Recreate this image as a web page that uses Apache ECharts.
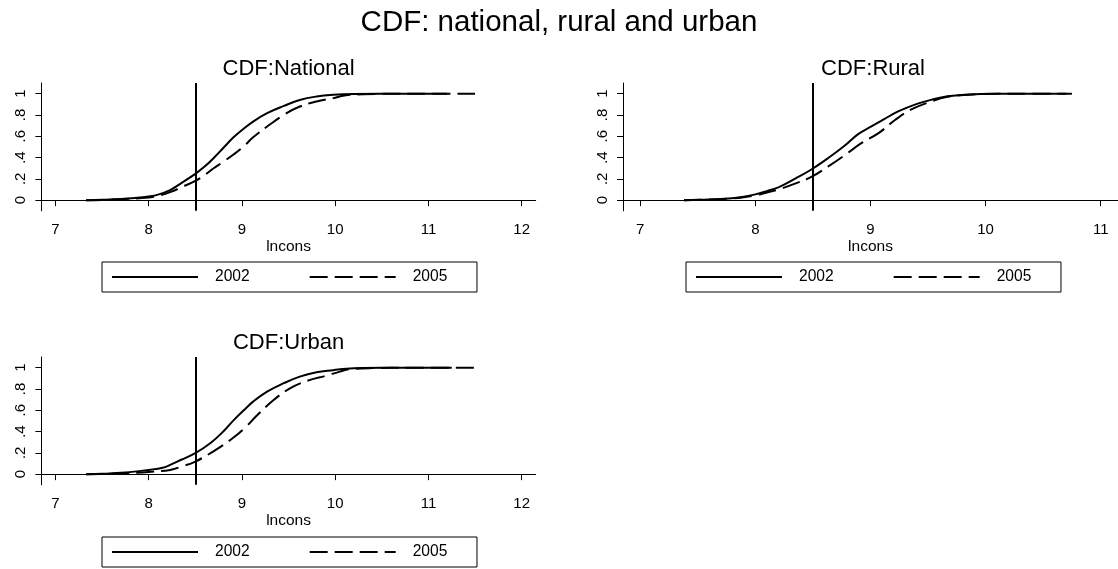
<!DOCTYPE html>
<html><head><meta charset="utf-8">
<script src="https://cdn.jsdelivr.net/npm/echarts@6/dist/echarts.min.js"></script>
<style>html,body{margin:0;padding:0;background:#fff}#c{width:1118px;height:569px}</style>
</head><body><div id="c"></div>
<script>
// ---- data ----
const mainTitle = 'CDF: national, rural and urban';
const panelTitles = ['CDF:National', 'CDF:Rural', 'CDF:Urban'];
const xAxisName = 'lncons';
const legendNames = ['2002', '2005'];
const xTicks = [7, 8, 9, 10, 11, 12];
const xTicksRural = [7, 8, 9, 10, 11];
const yTicks = [0, 0.2, 0.4, 0.6, 0.8, 1];
const yTickLabels = ['0', '.2', '.4', '.6', '.8', '1'];
const povertyLine = [8.5];

const natX2002 = [7.33, 7.50, 7.70, 7.90, 8.00, 8.10, 8.23, 8.35, 8.50, 8.60, 8.70, 8.80, 8.91, 9.00, 9.12, 9.27, 9.45, 9.62, 9.80, 9.98, 10.20, 10.60, 11.20];
const natY2002 = [0.000, 0.003, 0.010, 0.024, 0.034, 0.052, 0.095, 0.160, 0.247, 0.315, 0.398, 0.490, 0.590, 0.658, 0.738, 0.817, 0.885, 0.941, 0.973, 0.989, 0.997, 0.999, 1.000];
const natX2005 = [7.33, 7.50, 7.70, 7.90, 8.00, 8.10, 8.23, 8.37, 8.50, 8.60, 8.69, 8.80, 8.91, 9.02, 9.12, 9.27, 9.45, 9.62, 9.80, 9.98, 10.10, 10.30, 10.70, 11.50];
const natY2005 = [0.000, 0.002, 0.008, 0.018, 0.025, 0.040, 0.075, 0.128, 0.181, 0.235, 0.295, 0.360, 0.428, 0.505, 0.590, 0.691, 0.801, 0.879, 0.926, 0.958, 0.982, 0.995, 0.999, 1.000];

const rurX2002 = [7.38, 7.60, 7.77, 7.90, 8.00, 8.10, 8.20, 8.35, 8.49, 8.63, 8.78, 8.89, 9.00, 9.12, 9.24, 9.41, 9.53, 9.67, 9.82, 10.10, 10.75];
const rurY2002 = [0.000, 0.006, 0.016, 0.032, 0.054, 0.085, 0.120, 0.204, 0.290, 0.393, 0.515, 0.618, 0.688, 0.761, 0.833, 0.906, 0.943, 0.975, 0.990, 0.998, 1.000];
const rurX2005 = [7.38, 7.60, 7.77, 7.90, 8.00, 8.10, 8.20, 8.35, 8.49, 8.63, 8.78, 8.92, 9.07, 9.21, 9.35, 9.53, 9.67, 9.82, 10.10, 10.70];
const rurY2005 = [0.000, 0.005, 0.014, 0.028, 0.045, 0.072, 0.100, 0.157, 0.220, 0.314, 0.425, 0.535, 0.629, 0.750, 0.849, 0.927, 0.970, 0.988, 0.998, 1.000];

const urbX2002 = [7.33, 7.50, 7.75, 8.00, 8.15, 8.23, 8.35, 8.50, 8.66, 8.80, 8.91, 9.02, 9.12, 9.27, 9.45, 9.62, 9.80, 9.98, 10.12, 10.50, 11.25];
const urbY2002 = [0.000, 0.003, 0.015, 0.040, 0.060, 0.087, 0.135, 0.197, 0.290, 0.400, 0.505, 0.600, 0.681, 0.775, 0.854, 0.916, 0.957, 0.976, 0.990, 0.998, 1.000];
const urbX2005 = [7.33, 7.50, 7.75, 8.00, 8.23, 8.35, 8.50, 8.69, 8.91, 9.05, 9.16, 9.34, 9.52, 9.70, 9.91, 10.05, 10.15, 10.40, 10.80, 11.55];
const urbY2005 = [0.000, 0.002, 0.008, 0.020, 0.040, 0.070, 0.118, 0.212, 0.344, 0.450, 0.550, 0.697, 0.807, 0.876, 0.926, 0.963, 0.985, 0.996, 0.999, 1.000];

// ---- build ----
const FONT = '"Liberation Sans", Arial, sans-serif';
const pairs = (xs, ys) => xs.map((x, i) => [x, ys[i]]);

const panels = [
  { grid: { left: 41.4, top: 83, width: 494.3, height: 127.8 }, xmin: 6.85, xmax: 12.15, ticks: xTicks,
    s2002: pairs(natX2002, natY2002), s2005: pairs(natX2005, natY2005),
    title: { x: 288.6, y: 69.2 }, legend: { left: 102, top: 262 } },
  { grid: { left: 623, top: 83, width: 500, height: 127.8 }, xmin: 6.85, xmax: 11.15, ticks: xTicksRural,
    s2002: pairs(rurX2002, rurY2002), s2005: pairs(rurX2005, rurY2005),
    title: { x: 873, y: 69.2 }, legend: { left: 686, top: 262 } },
  { grid: { left: 41.4, top: 357, width: 494.3, height: 127.8 }, xmin: 6.85, xmax: 12.15, ticks: xTicks,
    s2002: pairs(urbX2002, urbY2002), s2005: pairs(urbX2005, urbY2005),
    title: { x: 288.6, y: 343.2 }, legend: { left: 102, top: 537 } }
];

const axisLine = { show: true, lineStyle: { color: '#000', width: 1 } };
const option = {
  animation: false,
  backgroundColor: '#fff',
  title: { text: mainTitle, left: 'center', top: 7.6, padding: 0,
    textStyle: { fontFamily: FONT, fontSize: 29.5, fontWeight: 'normal', color: '#000', lineHeight: 30 } },
  grid: panels.map(p => Object.assign({ containLabel: false }, p.grid)),
  xAxis: panels.map((p, i) => ({
    type: 'value', gridIndex: i, min: p.xmin, max: p.xmax,
    name: xAxisName, nameLocation: 'middle', nameGap: 27,
    nameTextStyle: { fontFamily: FONT, fontSize: 15.5, color: '#000', lineHeight: 15.5 },
    axisLine: axisLine, splitLine: { show: false },
    axisTick: { show: true, length: 6, customValues: p.ticks, lineStyle: { color: '#000' } },
    axisLabel: { show: true, customValues: p.ticks, margin: 12, fontFamily: FONT, fontSize: 15, color: '#000', lineHeight: 15 }
  })),
  yAxis: panels.map((p, i) => ({
    type: 'value', gridIndex: i, min: -0.1, max: 1.1,
    axisLine: axisLine, splitLine: { show: false },
    axisTick: { show: true, length: 6, customValues: yTicks, lineStyle: { color: '#000' } },
    axisLabel: { show: true, customValues: yTicks, rotate: 90, margin: 13, fontFamily: FONT, fontSize: 15, color: '#000', lineHeight: 15,
      formatter: v => { let k = 0; yTicks.forEach((t, j) => { if (Math.abs(t - v) < Math.abs(yTicks[k] - v)) k = j; }); return yTickLabels[k]; } }
  })),
  legend: panels.map(p => ({
    data: legendNames, left: p.legend.left, top: p.legend.top, orient: 'horizontal',
    padding: [7, 29.6, 7, 9], borderColor: '#000', borderWidth: 1, borderRadius: 0,
    itemWidth: 86, itemHeight: 14, itemGap: 59, selectedMode: false,
    itemStyle: { opacity: 0, borderWidth: 0 },
    lineStyle: { width: 2 },
    textStyle: { fontFamily: FONT, fontSize: 15.6, color: '#000', lineHeight: 16, padding: [0, 0, 0, 12] }
  })),
  graphic: panels.map((p, i) => ({
    type: 'text', x: p.title.x, y: p.title.y, silent: true,
    style: { text: panelTitles[i], font: '22px ' + FONT, fill: '#000', align: 'center', verticalAlign: 'middle', textAlign: 'center', textVerticalAlign: 'middle' }
  })),
  series: []
};
panels.forEach((p, i) => {
  option.series.push({
    name: legendNames[0], type: 'line', xAxisIndex: i, yAxisIndex: i, data: p.s2002,
    symbol: 'none', smooth: 0.4, clip: true,
    lineStyle: { color: '#000', width: 2, type: 'solid' }, itemStyle: { color: '#000' },
    markLine: { silent: true, symbol: 'none', label: { show: false },
      lineStyle: { color: '#000', width: 2, type: 'solid' }, data: povertyLine.map(v => ({ xAxis: v })) }
  });
  option.series.push({
    name: legendNames[1], type: 'line', xAxisIndex: i, yAxisIndex: i, data: p.s2005,
    symbol: 'none', smooth: 0.4, clip: true,
    lineStyle: { color: '#000', width: 2, type: [18, 7] }, itemStyle: { color: '#000' }
  });
});
const chart = echarts.init(document.getElementById('c'), null, { renderer: 'canvas' });
chart.setOption(option);
</script></body></html>
